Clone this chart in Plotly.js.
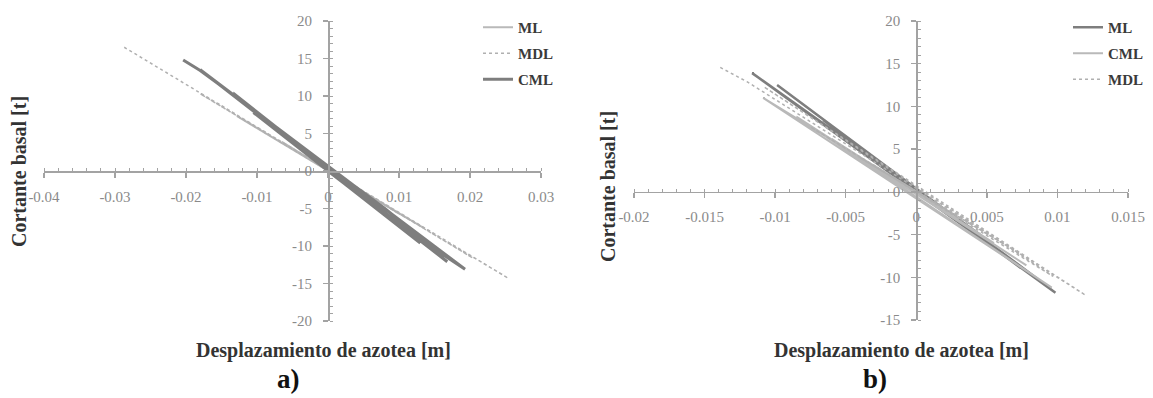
<!DOCTYPE html>
<html>
<head>
<meta charset="utf-8">
<script src="https://cdn.plot.ly/plotly-3.0.1.min.js"></script>
<style>
html,body{margin:0;padding:0;background:#fff;}
#chart{width:1153px;height:398px;}
</style>
</head>
<body>
<div id="chart"></div>
<script>
// ---------- Panel a) ----------
const aMLx  = [0, 0.003, -0.003, 0.006, -0.0065, 0.009, -0.0095, 0.0115, -0.0112, 0.0135, -0.0128, 0.004];
const aMLy  = [0, -1.8, 1.9, -3.5, 3.9, -5.1, 5.5, -6.5, 6.4, -7.6, 7.3, -2.2];
const aMDLx = [0, 0.005, -0.005, 0.010, -0.0105, 0.0152, -0.0155, 0.0204, -0.018, 0.0254, -0.0287];
const aMDLy = [0, -2.9, 3.0, -5.7, 6.1, -8.6, 9.0, -11.6, 10.3, -14.3, 16.5];
const aCMLx = [0, 0.004, -0.004, 0.008, -0.0085, 0.0097, -0.0105, 0.013, -0.0134, 0.0168, -0.018, 0.0193, 0.015, 0.008, 0.0, -0.008, -0.0134, -0.018, -0.0204];
const aCMLy = [0, -2.9, 3.0, -5.6, 6.4, -6.9, 7.8, -9.6, 10.4, -12.1, 13.5, -13.1, -10.4, -5.0, 0.6, 6.2, 10.2, 13.4, 14.8];
const aXTicks = [-0.04, -0.03, -0.02, -0.01, 0, 0.01, 0.02, 0.03];
const aXText  = ["-0.04", "-0.03", "-0.02", "-0.01", "0", "0.01", "0.02", "0.03"];
const aYTicks = [-20, -15, -10, -5, 0, 5, 10, 15, 20];
const aYText  = ["-20", "-15", "-10", "-5", "0", "5", "10", "15", "20"];

// ---------- Panel b) ----------
const bMLx  = [0, 0.002, -0.002, 0.0045, -0.0042, 0.0074, -0.0066, 0.0086, -0.00986, 0.00986, -0.01163, 0.001];
const bMLy  = [0, -2.3, 2.6, -5.0, 5.3, -8.9, 8.4, -10.2, 12.5, -11.8, 13.9, -0.9];
const bCMLx = [0, 0.003, -0.003, 0.0055, -0.006, 0.0078, -0.0085, 0.0096, -0.01085, 0.002];
const bCMLy = [0, -3.2, 3.1, -6.0, 6.2, -8.6, 8.8, -11.2, 11.0, -2.0];
const bMDLx = [0, 0.004, -0.004, 0.0075, -0.0075, 0.0097, -0.0108, 0.012, -0.012, -0.01404];
const bMDLy = [0, -3.9, 4.0, -7.4, 7.6, -9.9, 12.3, -12.1, 12.9, 14.7];
const bXTicks = [-0.02, -0.015, -0.01, -0.005, 0, 0.005, 0.01, 0.015];
const bXText  = ["-0.02", "-0.015", "-0.01", "-0.005", "0", "0.005", "0.01", "0.015"];
const bYTicks = [-15, -10, -5, 0, 5, 10, 15, 20];
const bYText  = ["-15", "-10", "-5", "0", "5", "10", "15", "20"];

const xTitle = "Desplazamiento de azotea [m]";
const yTitle = "Cortante basal [t]";

// ---------- layout geometry ----------
const W = 1153, H = 398;
const FONT = "'Liberation Serif', 'Times New Roman', 'DejaVu Serif', serif";
const axisCol = "#a3a3a3";
const tickFontCol = "#8a8a8a";
const titleCol = "#333333";

const rxA = [-0.04, 0.03], ryA = [-20, 20];
const rxB = [-0.02, 0.015], ryB = [-15, 20];
const dxA = [44 / W, 541 / W], dyA = [1 - 321 / H, 1 - 21 / H];
const dxB = [634 / W, 1128 / W], dyB = [1 - 320 / H, 1 - 21 / H];

function zeroPos(r, d) { return d[0] + (0 - r[0]) / (r[1] - r[0]) * (d[1] - d[0]); }

function xAxis(domain, range, yr, yd, tv, tt, minorD) {
  return {
    domain: domain, range: range, anchor: 'free', position: zeroPos(yr, yd),
    showline: true, linecolor: axisCol, linewidth: 1.5,
    showgrid: false, zeroline: false, automargin: false,
    tickmode: 'array', tickvals: tv, ticktext: tt,
    ticks: 'outside', ticklen: 5, tickwidth: 1.5, tickcolor: axisCol,
    ticklabelstandoff: 6,
    minor: { dtick: minorD, tick0: 0, ticks: 'inside', ticklen: 3, tickwidth: 1, tickcolor: axisCol, showgrid: false },
    tickfont: { family: FONT, size: 15, color: tickFontCol },
    fixedrange: true
  };
}
function yAxis(domain, range, xr, xd, tv, tt) {
  return {
    domain: domain, range: range, anchor: 'free', position: zeroPos(xr, xd),
    showline: true, linecolor: axisCol, linewidth: 1.5,
    showgrid: false, zeroline: false, automargin: false,
    tickmode: 'array', tickvals: tv, ticktext: tt,
    ticks: 'outside', ticklen: 5, tickwidth: 1.5, tickcolor: axisCol,
    ticklabelstandoff: 8,
    minor: { dtick: 1, tick0: 0, ticks: 'inside', ticklen: 3, tickwidth: 1, tickcolor: axisCol, showgrid: false },
    tickfont: { family: FONT, size: 15, color: tickFontCol },
    fixedrange: true
  };
}

const light = "#b9b9b9", mid = "#b0b0b0", dark = "#7e7e7e";

const traces = [
  { x: aMLx, y: aMLy, name: 'ML', mode: 'lines', xaxis: 'x', yaxis: 'y', legend: 'legend', legendgroup: 'a1',
    line: { color: light, width: 2 } },
  { x: aMDLx, y: aMDLy, name: 'MDL', mode: 'lines', xaxis: 'x', yaxis: 'y', legend: 'legend', legendgroup: 'a2',
    line: { color: mid, width: 1.5, dash: 'dot' } },
  { x: aCMLx, y: aCMLy, name: 'CML', mode: 'lines', xaxis: 'x', yaxis: 'y', legend: 'legend', legendgroup: 'a3',
    line: { color: dark, width: 3 } },
  { x: bMLx, y: bMLy, name: 'ML', mode: 'lines', xaxis: 'x2', yaxis: 'y2', legend: 'legend2', legendgroup: 'b1',
    line: { color: dark, width: 2.5 } },
  { x: bCMLx, y: bCMLy, name: 'CML', mode: 'lines', xaxis: 'x2', yaxis: 'y2', legend: 'legend2', legendgroup: 'b2',
    line: { color: light, width: 2 } },
  { x: bMDLx, y: bMDLy, name: 'MDL', mode: 'lines', xaxis: 'x2', yaxis: 'y2', legend: 'legend2', legendgroup: 'b3',
    line: { color: mid, width: 1.5, dash: 'dot' } }
];

const titleFont = { family: FONT, size: 20, color: titleCol, weight: 'bold' };
const legFont = { family: FONT, size: 15, color: '#3a3a3a', weight: 'bold' };
const panelFont = { family: FONT, size: 27, color: '#111', weight: 'bold' };

const layout = {
  width: W, height: H,
  margin: { l: 0, r: 0, t: 0, b: 0, autoexpand: false },
  paper_bgcolor: '#ffffff', plot_bgcolor: 'rgba(0,0,0,0)',
  xaxis: xAxis(dxA, rxA, ryA, dyA, aXTicks, aXText, 0.002),
  yaxis: yAxis(dyA, ryA, rxA, dxA, aYTicks, aYText),
  xaxis2: xAxis(dxB, rxB, ryB, dyB, bXTicks, bXText, 0.001),
  yaxis2: yAxis(dyB, ryB, rxB, dxB, bYTicks, bYText),
  legend: { x: 478 / W, y: 1 - 11 / H, xanchor: 'left', yanchor: 'top', bgcolor: 'rgba(0,0,0,0)',
            font: legFont, tracegroupgap: 3.5, traceorder: 'grouped', borderwidth: 0 },
  legend2: { x: 1068 / W, y: 1 - 11 / H, xanchor: 'left', yanchor: 'top', bgcolor: 'rgba(0,0,0,0)',
             font: legFont, tracegroupgap: 3.5, traceorder: 'grouped', borderwidth: 0 },
  showlegend: true,
  annotations: [
    { text: xTitle, x: 323 / W, y: 1 - 350 / H, xref: 'paper', yref: 'paper', xanchor: 'center', yanchor: 'middle',
      showarrow: false, font: titleFont },
    { text: yTitle, x: 19 / W, y: 1 - 172 / H, xref: 'paper', yref: 'paper', xanchor: 'center', yanchor: 'middle',
      textangle: -90, showarrow: false, font: titleFont },
    { text: xTitle, x: 901 / W, y: 1 - 350 / H, xref: 'paper', yref: 'paper', xanchor: 'center', yanchor: 'middle',
      showarrow: false, font: titleFont },
    { text: yTitle, x: 608 / W, y: 1 - 187 / H, xref: 'paper', yref: 'paper', xanchor: 'center', yanchor: 'middle',
      textangle: -90, showarrow: false, font: titleFont },
    { text: 'a)', x: 288 / W, y: 1 - 379 / H, xref: 'paper', yref: 'paper', xanchor: 'center', yanchor: 'middle',
      showarrow: false, font: panelFont },
    { text: 'b)', x: 875 / W, y: 1 - 379 / H, xref: 'paper', yref: 'paper', xanchor: 'center', yanchor: 'middle',
      showarrow: false, font: panelFont }
  ]
};

Plotly.newPlot('chart', traces, layout, { staticPlot: true, displayModeBar: false });
</script>
</body>
</html>
